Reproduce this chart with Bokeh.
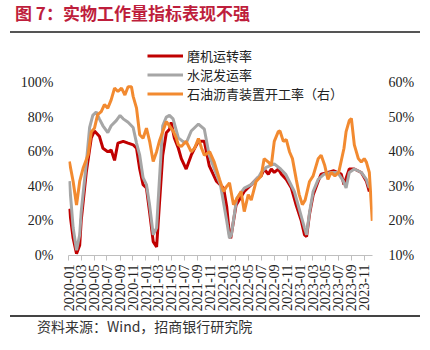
import pandas as pd
from bokeh.plotting import figure
from bokeh.layouts import column
from bokeh.models import (Range1d, LinearAxis, FixedTicker, PrintfTickFormatter,
                          DatetimeTickFormatter, Legend, LegendItem, ColumnDataSource, Div)
from bokeh.embed import file_html
from bokeh.resources import INLINE

# ---------------- data ----------------
mill_dates = ["2020-01-05", "2020-01-23", "2020-02-08", "2020-02-23", "2020-03-01", "2020-03-25",
              "2020-04-18", "2020-05-03", "2020-05-26", "2020-06-12", "2020-07-05", "2020-07-21",
              "2020-08-06", "2020-08-22", "2020-09-16", "2020-10-09", "2020-11-02", "2020-11-18",
              "2020-12-03", "2020-12-19", "2021-01-04", "2021-01-19", "2021-02-05", "2021-02-21",
              "2021-03-06", "2021-03-22", "2021-04-08", "2021-04-23", "2021-05-01", "2021-05-16",
              "2021-06-04", "2021-06-18", "2021-07-11", "2021-08-04", "2021-08-20", "2021-09-07",
              "2021-10-05", "2021-10-28", "2021-12-01", "2022-01-04", "2022-01-19", "2022-02-01",
              "2022-02-07", "2022-03-04", "2022-04-12", "2022-05-15", "2022-06-16", "2022-07-01",
              "2022-07-15", "2022-08-04", "2022-08-18", "2022-09-01", "2022-09-20", "2022-10-05",
              "2022-10-28", "2022-11-21", "2022-12-14", "2023-01-07", "2023-01-22", "2023-02-01",
              "2023-02-15", "2023-03-04", "2023-03-28", "2023-04-11", "2023-05-13", "2023-06-10",
              "2023-07-15", "2023-07-28", "2023-08-22", "2023-09-15", "2023-10-18", "2023-11-11",
              "2023-11-25"]
mill_rate = [27, 10, 1, 6, 20, 48,
             68, 72, 69, 62, 60, 61,
             55, 65, 66, 65, 64, 62,
             50, 41, 39, 25, 8, 5,
             29, 58, 71, 73, 77, 68,
             62, 56, 50, 58, 62, 66,
             66, 52, 43, 39, 28, 12,
             10, 29, 37, 41, 45, 46,
             50, 47, 50, 48, 50, 47,
             44, 39, 29, 20, 12, 11,
             24, 35, 43, 47, 48, 49,
             47, 41, 50, 50, 48, 43,
             37]

cement_dates = ["2020-01-05", "2020-01-23", "2020-02-08", "2020-02-23", "2020-03-01", "2020-03-25",
                "2020-04-10", "2020-04-25", "2020-05-11", "2020-05-26", "2020-06-12", "2020-07-05",
                "2020-07-21", "2020-08-14", "2020-09-01", "2020-09-16", "2020-10-09", "2020-11-02",
                "2020-11-18", "2020-12-03", "2020-12-19", "2021-01-04", "2021-01-19", "2021-02-05",
                "2021-02-21", "2021-03-06", "2021-03-22", "2021-04-08", "2021-04-23", "2021-05-10",
                "2021-06-04", "2021-06-25", "2021-07-11", "2021-08-04", "2021-09-07", "2021-10-05",
                "2021-10-28", "2021-12-01", "2021-12-20", "2022-01-19", "2022-02-01", "2022-02-10",
                "2022-03-07", "2022-04-12", "2022-05-15", "2022-06-22", "2022-07-01", "2022-07-25",
                "2022-09-01", "2022-10-01", "2022-10-25", "2022-12-05", "2022-12-28", "2023-01-22",
                "2023-02-01", "2023-02-15", "2023-03-04", "2023-03-28", "2023-04-25", "2023-05-28",
                "2023-06-28", "2023-07-25", "2023-08-07", "2023-08-22", "2023-09-15", "2023-10-18",
                "2023-11-11", "2023-11-25"]
cement_rate = [43, 16, 3, 12, 25, 53,
               74, 81, 83, 79, 75, 71,
               75, 78, 81, 79, 77, 74,
               65, 58, 45, 41, 29, 12,
               16, 43, 75, 80, 81, 79,
               68, 66, 65, 72, 76, 73,
               58, 47, 41, 20, 10, 12,
               33, 39, 41, 46, 48, 51,
               53, 50, 47, 37, 27, 16,
               12, 25, 37, 44, 47, 48,
               48, 43, 39, 48, 50, 48,
               44, 39]

asphalt_dates = ["2020-01-05", "2020-01-23", "2020-02-08", "2020-02-23", "2020-03-10", "2020-04-03",
                 "2020-04-18", "2020-05-03", "2020-05-18", "2020-06-04", "2020-06-19", "2020-07-05",
                 "2020-07-21", "2020-08-06", "2020-08-22", "2020-09-08", "2020-09-24", "2020-10-09",
                 "2020-10-25", "2020-11-02", "2020-11-18", "2020-12-03", "2020-12-19", "2021-01-04",
                 "2021-01-19", "2021-02-05", "2021-02-21", "2021-03-06", "2021-03-22", "2021-04-08",
                 "2021-04-23", "2021-05-10", "2021-05-25", "2021-06-04", "2021-06-18", "2021-07-11",
                 "2021-08-04", "2021-08-20", "2021-09-07", "2021-09-22", "2021-10-05", "2021-10-30",
                 "2021-11-21", "2021-12-16", "2022-01-04", "2022-01-19", "2022-02-01", "2022-02-20",
                 "2022-03-04", "2022-03-28", "2022-04-12", "2022-05-01", "2022-05-15", "2022-06-07",
                 "2022-07-01", "2022-07-15", "2022-08-04", "2022-08-18", "2022-09-01", "2022-09-20",
                 "2022-09-28", "2022-10-14", "2022-10-28", "2022-11-12", "2022-11-26", "2022-12-14",
                 "2022-12-28", "2023-01-12", "2023-01-25", "2023-02-15", "2023-03-04", "2023-03-28",
                 "2023-04-11", "2023-04-28", "2023-05-13", "2023-05-28", "2023-06-15", "2023-07-03",
                 "2023-07-28", "2023-08-07", "2023-08-22", "2023-09-01", "2023-09-15", "2023-10-04",
                 "2023-10-18", "2023-11-01", "2023-11-11", "2023-11-25", "2023-12-09"]
asphalt_rate = [37.2, 31.4, 24.6, 31.4, 35.2, 39.1,
                45.8, 46.8, 50.7, 51.6, 53.6, 52.6,
                55.0, 58.4, 57.4, 58.4, 56.4, 58.8,
                58.8, 56.0, 52.6, 44.9, 43.9, 46.8,
                43.0, 37.2, 40.0, 43.0, 45.8, 48.7,
                47.5, 46.0, 44.0, 42.0, 41.5, 43.0,
                40.0, 41.0, 43.8, 41.0, 39.0, 40.0,
                37.0, 32.0, 28.5, 30.0, 31.0, 24.7,
                26.0, 28.5, 22.7, 27.6, 26.0, 31.4,
                33.0, 38.0, 37.0, 36.0, 43.0, 45.8,
                46.0, 43.0, 43.5, 40.0, 38.0, 32.0,
                27.6, 24.7, 26.0, 31.4, 33.0, 38.0,
                39.0, 36.0, 32.0, 34.0, 33.0, 34.0,
                41.0, 45.8, 49.0, 49.6, 42.0, 38.0,
                37.0, 38.0, 37.0, 34.0, 20.0]

tick_labels = ["2020-01", "2020-03", "2020-05", "2020-07", "2020-09", "2020-11",
               "2021-01", "2021-03", "2021-05", "2021-07", "2021-09", "2021-11",
               "2022-01", "2022-03", "2022-05", "2022-07", "2022-09", "2022-11",
               "2023-01", "2023-03", "2023-05", "2023-07", "2023-09", "2023-11"]
left_ticks = [0, 20, 40, 60, 80, 100]
right_ticks = [10, 20, 30, 40, 50, 60]

series_names = ["磨机运转率", "水泥发运率", "石油沥青装置开工率（右）"]
title_text = "图 7：实物工作量指标表现不强"
source_text = "资料来源：Wind，招商银行研究院"

serif = "Liberation Serif"
cjk = "Noto Sans CJK SC"
W = 430

# ---------------- header: title + rule (HTML) ----------------
head_html = (
    '<div style="position:relative;width:430px;height:40px;margin:0;padding:0;">'
    '<div style="position:absolute;left:15px;top:4px;line-height:18px;white-space:nowrap;'
    "font-family:'Noto Sans CJK SC';font-size:17px;font-weight:bold;color:#BE1E3C;\">"
    + title_text + '</div>'
    '<div style="position:absolute;left:10px;top:31px;width:410px;height:0px;'
    'border-top:2px solid #555555;"></div></div>'
)
head = Div(text=head_html, width=W, height=40, margin=0)

# ---------------- main chart ----------------
p = figure(width=W, height=275, x_axis_type="datetime", output_backend="svg",
           toolbar_location=None, min_border_left=68, min_border_right=58,
           min_border_top=0, min_border_bottom=60, frame_align=False)
p.x_range = Range1d(pd.Timestamp("2020-01-01"), pd.Timestamp("2023-12-10"))
p.y_range = Range1d(0, 124.3)
p.extra_y_ranges = {"right": Range1d(10, 10 + 124.3 / 2)}
p.background_fill_color = "white"
p.border_fill_color = "white"
p.outline_line_color = None
p.xgrid.visible = False
p.ygrid.visible = False

xa = p.xaxis[0]
tick_ms = [pd.Timestamp(t + "-01").value / 1e6 for t in tick_labels]
xa.ticker = FixedTicker(ticks=tick_ms)
fmt = "%Y-%m"
xa.formatter = DatetimeTickFormatter(microseconds=fmt, milliseconds=fmt, seconds=fmt,
                                     minsec=fmt, minutes=fmt, hourmin=fmt, hours=fmt,
                                     days=fmt, months=fmt, years=fmt)
xa.major_label_orientation = 3.14159265 / 2
xa.major_label_text_font = serif
xa.major_label_text_font_size = "14px"
xa.major_label_text_color = "#222222"
xa.axis_line_color = "#BFBFBF"
xa.major_tick_line_color = "#BFBFBF"
xa.major_tick_in = 0
xa.major_tick_out = 5
xa.minor_tick_line_color = None
xa.major_label_standoff = 4

ya = p.yaxis[0]
ya.ticker = FixedTicker(ticks=left_ticks)
ya.formatter = PrintfTickFormatter(format="%d%%")
ya.axis_line_color = None
ya.major_tick_line_color = None
ya.minor_tick_line_color = None
ya.major_label_text_font = serif
ya.major_label_text_font_size = "14px"
ya.major_label_text_color = "#222222"
ya.major_label_standoff = 9

ra = LinearAxis(y_range_name="right", ticker=FixedTicker(ticks=right_ticks),
                formatter=PrintfTickFormatter(format="%d%%"))
ra.axis_line_color = None
ra.major_tick_line_color = None
ra.minor_tick_line_color = None
ra.major_label_text_font = serif
ra.major_label_text_font_size = "14px"
ra.major_label_text_color = "#222222"
ra.major_label_standoff = 10
p.add_layout(ra, "right")

src_m = ColumnDataSource(dict(x=pd.to_datetime(mill_dates), y=mill_rate))
src_c = ColumnDataSource(dict(x=pd.to_datetime(cement_dates), y=cement_rate))
src_a = ColumnDataSource(dict(x=pd.to_datetime(asphalt_dates), y=asphalt_rate))
r_m = p.line("x", "y", source=src_m, line_color="#C00000", line_width=3)
r_c = p.line("x", "y", source=src_c, line_color="#A6A6A6", line_width=3)
r_a = p.line("x", "y", source=src_a, line_color="#F28A30", line_width=3, y_range_name="right")

legend = Legend(items=[LegendItem(label=series_names[0], renderers=[r_m]),
                       LegendItem(label=series_names[1], renderers=[r_c]),
                       LegendItem(label=series_names[2], renderers=[r_a])],
                location=(79, 152))
legend.border_line_color = None
legend.background_fill_alpha = 0
legend.glyph_width = 36
legend.glyph_height = 17
legend.label_height = 17
legend.label_standoff = 4
legend.padding = 0
legend.margin = 0
legend.spacing = 0
legend.label_text_font = cjk
legend.label_text_font_size = "13px"
legend.label_text_color = "#222222"
p.add_layout(legend)

# ---------------- footer: rule + source (HTML) ----------------
foot_html = (
    '<div style="position:relative;width:430px;height:35px;margin:0;padding:0;">'
    '<div style="position:absolute;left:10px;top:0px;width:410px;height:0px;'
    'border-top:2px solid #444444;"></div>'
    '<div style="position:absolute;left:37px;top:2px;line-height:18px;white-space:nowrap;'
    "font-family:'Noto Sans CJK SC';font-size:14px;color:#333333;\">"
    + source_text + '</div></div>'
)
foot = Div(text=foot_html, width=W, height=35, margin=0)

layout = column(head, p, foot, spacing=0)
open("out.html", "w").write(file_html(layout, INLINE))
